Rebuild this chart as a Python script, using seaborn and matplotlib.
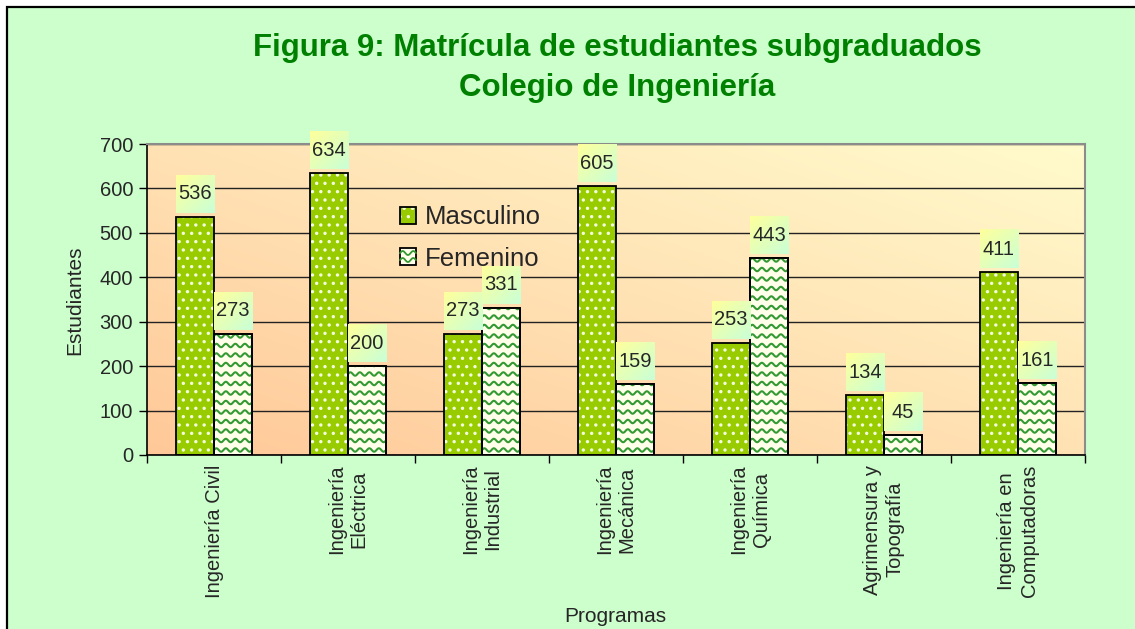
import numpy as np
import pandas as pd
import matplotlib
matplotlib.use("Agg")
import matplotlib.pyplot as plt
import seaborn as sns
from matplotlib.patches import Rectangle
from matplotlib.lines import Line2D
from matplotlib.colors import LinearSegmentedColormap

# --- data ---
programas = ["Ingeniería Civil", "Ingeniería\nEléctrica", "Ingeniería\nIndustrial",
             "Ingeniería\nMecánica", "Ingeniería\nQuímica", "Agrimensura y\nTopografía",
             "Ingeniería en\nComputadoras"]
masculino = [536, 634, 273, 605, 253, 134, 411]
femenino = [273, 200, 331, 159, 443, 45, 161]
series = ["Masculino", "Femenino"]
y_ticks = [0, 100, 200, 300, 400, 500, 600, 700]

MASC_COLOR = "#99CC00"
FEM_COLOR = "#FFFFEA"
WAVE_COLOR = "#339933"
BG_COLOR = "#CCFFCC"
TITLE_COLOR = "#008000"

df = pd.DataFrame({
    "Programa": programas * 2,
    "Estudiantes": masculino + femenino,
    "Sexo": [series[0]] * len(programas) + [series[1]] * len(programas),
})

sns.set_style("white")
plt.rcParams["font.family"] = ["Liberation Sans", "DejaVu Sans"]
plt.rcParams["hatch.linewidth"] = 1.2

W, H = 1135, 629
fig = plt.figure(figsize=(W / 100, H / 100), dpi=100, facecolor="white")

# green chart area with black border (cut at right/bottom like the screenshot)
fig.patches.append(Rectangle((7 / W, -0.05), 1.2, 1 - 7 / H + 0.05, transform=fig.transFigure,
                             facecolor=BG_COLOR, edgecolor="black", lw=1.6, zorder=-10))

ax = fig.add_axes([147 / W, 1 - 455 / H, (1085 - 147) / W, (455 - 144) / H])
ax.set_facecolor("none")

# diagonal gradient in plot area (peach bottom-left -> pale yellow top-right)
gx, gy = np.meshgrid(np.linspace(0, 1, 200), np.linspace(0, 1, 200))
g = (gx + gy) / 2
bg_cmap = LinearSegmentedColormap.from_list("bg", ["#FFC898", "#FFE2B4", "#FFFBCC"])
ax.imshow(g, cmap=bg_cmap, extent=[-0.5, 6.5, 0, 700], origin="lower", aspect="auto", zorder=0)

sns.barplot(data=df, x="Programa", y="Estudiantes", hue="Sexo", order=programas,
            hue_order=series, palette={series[0]: MASC_COLOR, series[1]: FEM_COLOR},
            saturation=1, width=0.57, gap=0, edgecolor="black", linewidth=1.2,
            legend=False, ax=ax, zorder=2)

masc_bars = ax.containers[0]
fem_bars = ax.containers[1]

# dotted fill for Masculino
for bar in masc_bars:
    bar.set_hatch("..")
    bar.set_edgecolor("#F4FFE0")
    bar.set_linewidth(0)
    ax.add_patch(Rectangle(bar.get_xy(), bar.get_width(), bar.get_height(), fill=False,
                           edgecolor="black", lw=1.3, zorder=3))

# wavy fill for Femenino (pixel sizes converted to data units)
ux = 7 / 938
uy = 700 / 311
for bar in fem_bars:
    x0, w, h = bar.get_x(), bar.get_width(), bar.get_height()
    xs = np.linspace(x0, x0 + w, 100)
    for k in range(int(h / (9.5 * uy)) + 2):
        ys = 5 * uy + k * 9.5 * uy + 1.7 * uy * np.sin(2 * np.pi * (xs - x0) / (9.5 * ux))
        ln, = ax.plot(xs, ys, color=WAVE_COLOR, lw=1.5, zorder=2.5)
        ln.set_clip_path(bar)
    ax.add_patch(Rectangle(bar.get_xy(), w, h, fill=False, edgecolor="black", lw=1.3, zorder=3))

# value labels in small gradient boxes
box_cmap = LinearSegmentedColormap.from_list("box", ["#FFFF9C", "#E4FFB8", "#C8FFD8"])
bg2 = (gx + (1 - gy)) / 2
for bars in (masc_bars, fem_bars):
    for bar in bars:
        x0, w, h = bar.get_x(), bar.get_width(), bar.get_height()
        b0 = h + 4 * uy
        b1 = b0 + 38 * uy
        im = ax.imshow(bg2, cmap=box_cmap, extent=[x0, x0 + w, b0, b1], origin="lower",
                       aspect="auto", zorder=4)
        im.set_clip_on(False)
        ax.text(x0 + w / 2, (b0 + b1) / 2, f"{int(h)}", ha="center", va="center",
                fontsize=14.5, zorder=5, clip_on=False)

ax.set_xlim(-0.5, 6.5)
ax.set_ylim(0, 700)
ax.set_yticks(y_ticks)
ax.set_yticklabels([str(t) for t in y_ticks], fontsize=14.5)
ax.set_xticks(np.arange(-0.5, 7, 1))
ax.set_xticklabels([])
ax.set_xticks(range(len(programas)), minor=True)
ax.set_xticklabels(programas, minor=True, rotation=90, va="top", ha="center",
                   multialignment="center", linespacing=1.2, fontsize=14.5)
ax.tick_params(axis="x", which="major", direction="out", length=6, width=1, color="black", bottom=True)
ax.tick_params(axis="x", which="minor", length=0, pad=7)
ax.tick_params(axis="y", direction="out", length=6, width=1, color="black", left=True, pad=4)
ax.set_xlabel("")
ax.set_ylabel("")

ax.set_axisbelow(True)
ax.yaxis.grid(True, color="#222222", lw=1)
ax.xaxis.grid(False)
for side in ("top", "right"):
    ax.spines[side].set_color("#8C8C8C")
    ax.spines[side].set_linewidth(1.5)
for side in ("left", "bottom"):
    ax.spines[side].set_color("black")
    ax.spines[side].set_linewidth(1.2)


class WaveHandler:
    def legend_artist(self, legend, orig_handle, fontsize, handlebox):
        x0, y0 = -handlebox.xdescent, -handlebox.ydescent
        w, h = handlebox.width, handlebox.height
        tr = handlebox.get_transform()
        rect = Rectangle((x0, y0), w, h, facecolor=FEM_COLOR, edgecolor="black", lw=1.3, transform=tr)
        handlebox.add_artist(rect)
        xs = np.linspace(x0, x0 + w, 30)
        for f in (0.3, 0.72):
            ys = y0 + h * f + h * 0.12 * np.sin(2 * np.pi * (xs - x0) / (w / 1.5))
            handlebox.add_artist(Line2D(xs, ys, color=WAVE_COLOR, lw=1.3, transform=tr))
        return rect


class DotHandler:
    def legend_artist(self, legend, orig_handle, fontsize, handlebox):
        x0, y0 = -handlebox.xdescent, -handlebox.ydescent
        w, h = handlebox.width, handlebox.height
        tr = handlebox.get_transform()
        dots = Rectangle((x0, y0), w, h, facecolor=MASC_COLOR, edgecolor="#F4FFE0", lw=0,
                         hatch="..", transform=tr)
        handlebox.add_artist(dots)
        rect = Rectangle((x0, y0), w, h, fill=False, edgecolor="black", lw=1.3, transform=tr)
        handlebox.add_artist(rect)
        return rect


h_m = Rectangle((0, 0), 1, 1, label=series[0])
h_f = Rectangle((0, 0), 1, 1, label=series[1])
ax.legend(handles=[h_m, h_f], labels=series, loc="center left",
          bbox_to_anchor=(400 / W, 1 - 238 / H), bbox_transform=fig.transFigure,
          frameon=False, fontsize=18.5, borderpad=0, borderaxespad=0,
          handlelength=0.62, handleheight=0.62, handletextpad=0.35, labelspacing=0.68,
          handler_map={h_m: DotHandler(), h_f: WaveHandler()})

fig.text(617 / W, 1 - 48 / H, "Figura 9: Matrícula de estudiantes subgraduados",
         ha="center", va="center", fontsize=22.5, fontweight="bold", color=TITLE_COLOR)
fig.text(617 / W, 1 - 88 / H, "Colegio de Ingeniería",
         ha="center", va="center", fontsize=22.5, fontweight="bold", color=TITLE_COLOR)
fig.text(75 / W, 1 - 300 / H, "Estudiantes", rotation=90, ha="center", va="center", fontsize=15)
fig.text(615 / W, 1 - 617 / H, "Programas", ha="center", va="center", fontsize=15)

fig.savefig("out.png", dpi=100, facecolor=fig.get_facecolor())
